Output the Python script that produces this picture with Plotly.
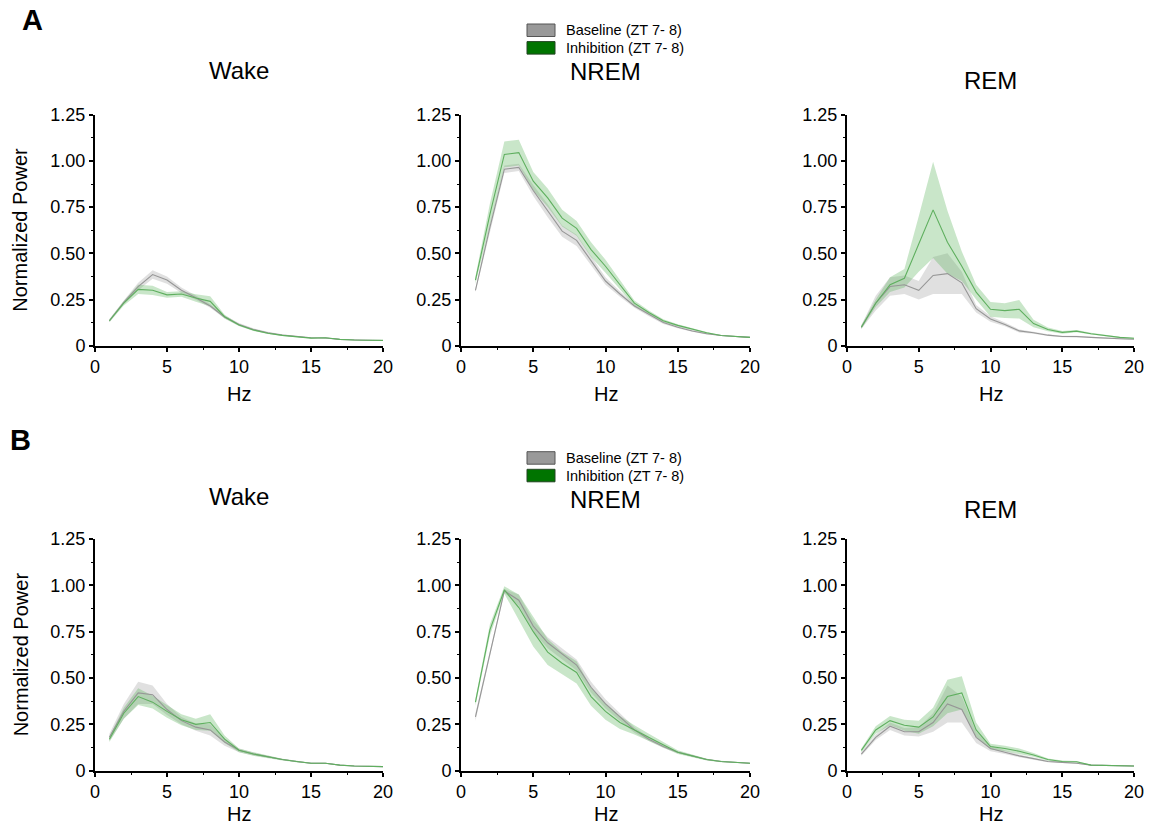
import plotly.graph_objects as go

hz = list(range(1, 21))

# Row A
a_wake_base = [0.135,0.235,0.32,0.385,0.355,0.30,0.26,0.215,0.155,0.115,0.088,0.07,0.058,0.05,0.043,0.042,0.034,0.031,0.029,0.028]
a_wake_base_sem = [0.008,0.01,0.02,0.023,0.02,0.015,0.012,0.01,0.008,0.008,0.006,0.005,0.004,0.003,0.003,0.003,0.002,0.002,0.002,0.002]
a_wake_inh = [0.135,0.23,0.305,0.30,0.275,0.28,0.258,0.24,0.157,0.112,0.085,0.067,0.056,0.049,0.041,0.043,0.034,0.031,0.029,0.029]
a_wake_inh_sem = [0.008,0.012,0.025,0.025,0.015,0.015,0.02,0.027,0.01,0.006,0.005,0.004,0.003,0.003,0.002,0.002,0.002,0.002,0.002,0.002]

a_nrem_base = [0.30,0.64,0.955,0.965,0.84,0.73,0.62,0.57,0.46,0.35,0.28,0.215,0.17,0.125,0.10,0.08,0.065,0.055,0.05,0.045]
a_nrem_base_sem = [0.01,0.02,0.02,0.02,0.03,0.035,0.03,0.03,0.025,0.02,0.015,0.01,0.01,0.008,0.006,0.005,0.004,0.003,0.003,0.003]
a_nrem_inh = [0.355,0.71,1.035,1.045,0.89,0.80,0.69,0.635,0.52,0.43,0.33,0.23,0.18,0.135,0.11,0.09,0.07,0.055,0.05,0.045]
a_nrem_inh_sem = [0.02,0.06,0.07,0.07,0.05,0.05,0.045,0.04,0.04,0.035,0.025,0.015,0.01,0.008,0.006,0.005,0.004,0.003,0.003,0.003]

a_rem_base = [0.10,0.23,0.32,0.33,0.30,0.38,0.39,0.34,0.20,0.145,0.115,0.08,0.07,0.057,0.05,0.05,0.045,0.04,0.038,0.035]
a_rem_base_sem = [0.01,0.04,0.05,0.05,0.05,0.10,0.11,0.06,0.02,0.015,0.01,0.008,0.006,0.005,0.004,0.004,0.003,0.003,0.003,0.003]
a_rem_inh = [0.10,0.23,0.33,0.365,0.55,0.735,0.56,0.43,0.29,0.197,0.19,0.197,0.12,0.088,0.072,0.079,0.065,0.055,0.045,0.04]
a_rem_inh_sem = [0.01,0.02,0.04,0.05,0.15,0.26,0.17,0.08,0.04,0.04,0.04,0.05,0.02,0.01,0.008,0.006,0.005,0.004,0.003,0.003]

# Row B
b_wake_base = [0.18,0.32,0.42,0.41,0.33,0.27,0.235,0.22,0.155,0.11,0.09,0.075,0.06,0.05,0.04,0.04,0.03,0.025,0.025,0.022]
b_wake_base_sem = [0.02,0.04,0.06,0.05,0.03,0.02,0.02,0.03,0.02,0.01,0.008,0.006,0.005,0.004,0.003,0.003,0.002,0.002,0.002,0.002]
b_wake_inh = [0.17,0.31,0.40,0.37,0.32,0.275,0.25,0.26,0.17,0.11,0.09,0.075,0.06,0.05,0.04,0.04,0.03,0.025,0.025,0.022]
b_wake_inh_sem = [0.015,0.03,0.045,0.035,0.035,0.03,0.03,0.045,0.02,0.01,0.01,0.008,0.005,0.004,0.003,0.003,0.002,0.002,0.002,0.002]

b_nrem_base = [0.29,0.63,0.97,0.92,0.78,0.69,0.63,0.57,0.45,0.36,0.29,0.22,0.17,0.13,0.10,0.08,0.06,0.05,0.045,0.04]
b_nrem_base_sem = [0.02,0.02,0.01,0.03,0.03,0.03,0.03,0.03,0.03,0.025,0.02,0.015,0.01,0.008,0.006,0.005,0.004,0.003,0.003,0.003]
b_nrem_inh = [0.37,0.76,0.975,0.88,0.75,0.64,0.58,0.53,0.40,0.32,0.26,0.22,0.18,0.14,0.10,0.08,0.06,0.05,0.045,0.04]
b_nrem_inh_sem = [0.02,0.03,0.02,0.07,0.08,0.07,0.06,0.06,0.05,0.045,0.035,0.025,0.02,0.015,0.01,0.008,0.005,0.004,0.003,0.003]

b_rem_base = [0.09,0.18,0.24,0.21,0.21,0.26,0.36,0.33,0.18,0.12,0.10,0.08,0.065,0.05,0.045,0.04,0.03,0.027,0.027,0.025]
b_rem_base_sem = [0.01,0.015,0.02,0.02,0.025,0.05,0.10,0.07,0.03,0.015,0.01,0.008,0.006,0.004,0.004,0.003,0.002,0.002,0.002,0.002]
b_rem_inh = [0.11,0.22,0.27,0.245,0.235,0.29,0.40,0.42,0.22,0.13,0.12,0.105,0.085,0.06,0.05,0.048,0.03,0.027,0.027,0.025]
b_rem_inh_sem = [0.01,0.02,0.025,0.03,0.035,0.05,0.09,0.09,0.04,0.015,0.015,0.015,0.01,0.006,0.005,0.004,0.003,0.002,0.002,0.002]

panel_titles = ["Wake", "NREM", "REM"]
series_labels = ["Baseline (ZT 7- 8)", "Inhibition (ZT 7- 8)"]
row_letters = ["A", "B"]
ytick_vals = [0, 0.25, 0.5, 0.75, 1.0, 1.25]
ytick_text = ["0", "0.25", "0.50", "0.75", "1.00", "1.25"]
xtick_vals = [0, 5, 10, 15, 20]

panels = [
    [(a_wake_base, a_wake_base_sem, a_wake_inh, a_wake_inh_sem),
     (a_nrem_base, a_nrem_base_sem, a_nrem_inh, a_nrem_inh_sem),
     (a_rem_base, a_rem_base_sem, a_rem_inh, a_rem_inh_sem)],
    [(b_wake_base, b_wake_base_sem, b_wake_inh, b_wake_inh_sem),
     (b_nrem_base, b_nrem_base_sem, b_nrem_inh, b_nrem_inh_sem),
     (b_rem_base, b_rem_base_sem, b_rem_inh, b_rem_inh_sem)],
]

# The page body has an 8px default margin, so the figure is drawn 8px in
# and sized so that it ends at the window edge.
OFF = 8
W, H = 1152 - OFF, 831 - OFF


def px_x(p):
    return (p - OFF) / W


def px_y(p):
    return 1 - (p - OFF) / H


x_px = [(95, 383), (461, 750), (847, 1134)]
y_px = [(114.7, 345.7), (539, 770.7)]
title_y_px = [[70, 72, 80], [496, 500, 509]]
hz_y_px = [394, 814]
letter_pos = [(32.5, 20.3), (20, 440)]
legend_top_px = [24, 451.7]

BASE_FILL = "rgba(160,160,160,0.33)"
BASE_LINE = "rgb(150,150,150)"
INH_FILL = "rgba(90,180,90,0.33)"
INH_LINE = "rgb(95,175,95)"
FONT = "Arial, Liberation Sans, Helvetica, sans-serif"

fig = go.Figure()
layout = {}
annotations = []
shapes = []

for r in range(2):
    for c in range(3):
        idx = r * 3 + c + 1
        xa = "x" if idx == 1 else f"x{idx}"
        ya = "y" if idx == 1 else f"y{idx}"
        base, base_sem, inh, inh_sem = panels[r][c]
        for mean, sem, fillc in ((base, base_sem, BASE_FILL), (inh, inh_sem, INH_FILL)):
            upper = [m + s for m, s in zip(mean, sem)]
            lower = [m - s for m, s in zip(mean, sem)]
            fig.add_trace(go.Scatter(x=hz, y=upper, xaxis=xa, yaxis=ya, mode="lines",
                                     line=dict(width=0), showlegend=False, hoverinfo="skip"))
            fig.add_trace(go.Scatter(x=hz, y=lower, xaxis=xa, yaxis=ya, mode="lines",
                                     line=dict(width=0), fill="tonexty", fillcolor=fillc,
                                     showlegend=False, hoverinfo="skip"))
        fig.add_trace(go.Scatter(x=hz, y=base, xaxis=xa, yaxis=ya, mode="lines",
                                 line=dict(color=BASE_LINE, width=1.1), showlegend=False,
                                 name=series_labels[0]))
        fig.add_trace(go.Scatter(x=hz, y=inh, xaxis=xa, yaxis=ya, mode="lines",
                                 line=dict(color=INH_LINE, width=1.1), showlegend=False,
                                 name=series_labels[1]))

        xk = "xaxis" if idx == 1 else f"xaxis{idx}"
        yk = "yaxis" if idx == 1 else f"yaxis{idx}"
        x0, x1 = x_px[c]
        yt, yb = y_px[r]
        layout[xk] = dict(
            domain=[px_x(x0), px_x(x1)], anchor=ya, range=[0, 20], automargin=False,
            showline=True, linecolor="black", linewidth=2, showgrid=False, zeroline=False,
            ticks="outside", ticklen=4, tickwidth=1.5, tickcolor="black",
            tickvals=xtick_vals, tickfont=dict(size=18, color="black", family=FONT),
            minor=dict(tickvals=[2.5, 7.5, 12.5, 17.5], ticks="outside", ticklen=2.5,
                       tickwidth=1.2, tickcolor="black"),
        )
        layout[yk] = dict(
            domain=[px_y(yb), px_y(yt)], anchor=xa, range=[0, 1.25], automargin=False,
            showline=True, linecolor="black", linewidth=2, showgrid=False, zeroline=False,
            ticks="outside", ticklen=4, tickwidth=1.5, tickcolor="black",
            tickvals=ytick_vals, ticktext=ytick_text,
            tickfont=dict(size=18, color="black", family=FONT),
            minor=dict(tickvals=[0.125, 0.375, 0.625, 0.875, 1.125], ticks="outside",
                       ticklen=2.5, tickwidth=1.2, tickcolor="black"),
        )
        annotations.append(dict(text=panel_titles[c], x=px_x((x0 + x1) / 2),
                                y=px_y(title_y_px[r][c]), xref="paper", yref="paper",
                                xanchor="center", yanchor="middle", showarrow=False,
                                font=dict(size=24, color="black", family=FONT)))
        annotations.append(dict(text="Hz", x=px_x((x0 + x1) / 2), y=px_y(hz_y_px[r]),
                                xref="paper", yref="paper", xanchor="center", yanchor="middle",
                                showarrow=False, font=dict(size=20, color="black", family=FONT)))
        if c == 0:
            annotations.append(dict(text="Normalized Power", x=px_x(20.5),
                                    y=px_y((yt + yb) / 2), xref="paper", yref="paper",
                                    xanchor="center", yanchor="middle", textangle=-90,
                                    showarrow=False,
                                    font=dict(size=20, color="black", family=FONT)))

    top = legend_top_px[r]
    for k, (label, fc, lc) in enumerate(((series_labels[0], "#999999", "#555555"),
                                         (series_labels[1], "#007400", "#224422"))):
        y0 = top + k * 17.6
        shapes.append(dict(type="rect", xref="paper", yref="paper",
                           x0=px_x(527), x1=px_x(555), y0=px_y(y0 + 12.5), y1=px_y(y0),
                           fillcolor=fc, line=dict(color=lc, width=1)))
        annotations.append(dict(text=label, x=px_x(564), y=px_y(y0 + 6.3),
                                xref="paper", yref="paper", xanchor="left", yanchor="middle",
                                showarrow=False, font=dict(size=14.5, color="black", family=FONT)))

    lx, ly = letter_pos[r]
    annotations.append(dict(text="<b>%s</b>" % row_letters[r], x=px_x(lx), y=px_y(ly),
                            xref="paper", yref="paper", xanchor="center", yanchor="middle",
                            showarrow=False, font=dict(size=29, color="black", family=FONT)))

fig.update_layout(width=W, height=H, margin=dict(l=0, r=0, t=0, b=0, autoexpand=False),
                  paper_bgcolor="white", plot_bgcolor="white", showlegend=False,
                  font=dict(family=FONT, color="black"),
                  annotations=annotations, shapes=shapes, **layout)

fig.write_html("out.html")
